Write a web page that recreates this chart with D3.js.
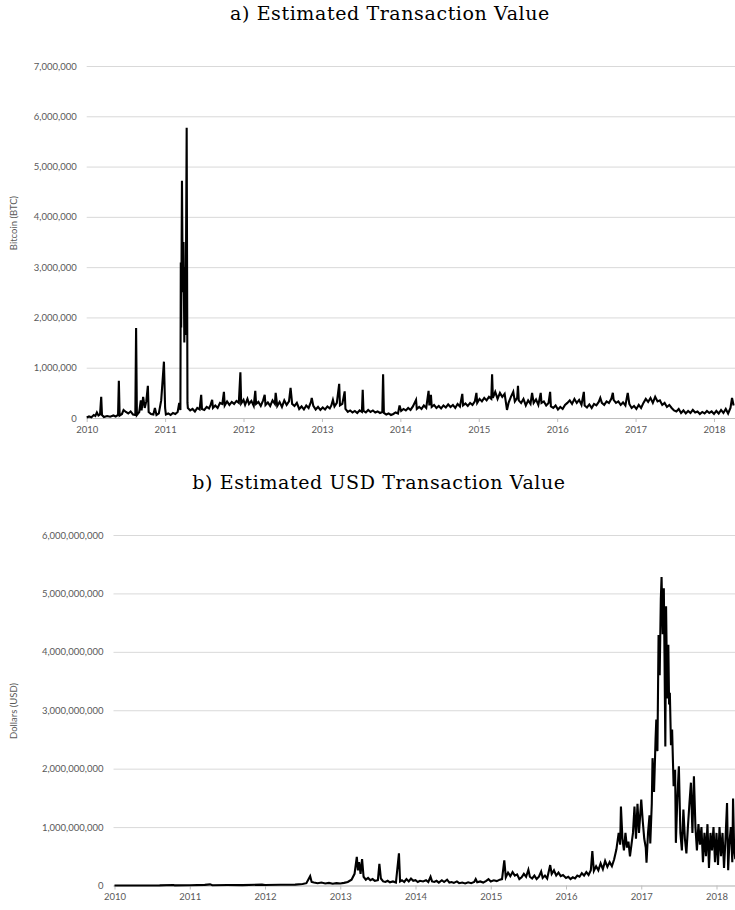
<!DOCTYPE html>
<html>
<head>
<meta charset="utf-8">
<script src="https://cdn.jsdelivr.net/npm/d3@7"></script>
<style>
  html, body { margin: 0; padding: 0; background: #fff; }
  svg { display: block; }
  .tick text { font-family: Lato, "Open Sans", sans-serif; fill: #595959; }
  .title { font-family: "DejaVu Serif", serif; fill: #000; letter-spacing: 0.6px; }
  .ytitle { font-family: Lato, "Open Sans", sans-serif; fill: #595959; font-size: 9.5px; }
</style>
</head>
<body>
<svg id="chart" width="735" height="910"></svg>
<script>
// Year tick labels shared by both panels
const yearTicks = [2010, 2011, 2012, 2013, 2014, 2015, 2016, 2017, 2018];
const btcTicks = [0, 1000, 2000, 3000, 4000, 5000, 6000, 7000];       // thousands of BTC
const usdTicks = [0, 1000, 2000, 3000, 4000, 5000, 6000];             // millions of USD

// a) Estimated transaction value, thousands of BTC (date as fractional year)
const btcDates = [
  2010.00, 2010.03, 2010.06, 2010.09, 2010.11, 2010.13, 2010.15, 2010.17, 2010.185, 2010.195,
  2010.22, 2010.26, 2010.30, 2010.34, 2010.37, 2010.40, 2010.41, 2010.42, 2010.45, 2010.47,
  2010.50, 2010.53, 2010.56, 2010.59, 2010.62, 2010.63, 2010.64, 2010.67, 2010.69, 2010.70,
  2010.72, 2010.74, 2010.76, 2010.78, 2010.79, 2010.82, 2010.85, 2010.87, 2010.89, 2010.92,
  2010.95, 2010.985, 2011.00, 2011.01, 2011.04, 2011.07, 2011.10, 2011.13, 2011.16, 2011.18,
  2011.195, 2011.20, 2011.205, 2011.215, 2011.225, 2011.235, 2011.245, 2011.255, 2011.26, 2011.265,
  2011.275, 2011.285, 2011.29, 2011.32, 2011.35, 2011.38, 2011.41, 2011.44, 2011.46, 2011.47,
  2011.50, 2011.53, 2011.56, 2011.58, 2011.60, 2011.61, 2011.64, 2011.67, 2011.70, 2011.73,
  2011.75, 2011.76, 2011.79, 2011.82, 2011.85, 2011.88, 2011.91, 2011.94, 2011.96, 2011.97,
  2012.00, 2012.02, 2012.05, 2012.07, 2012.10, 2012.13, 2012.15, 2012.16, 2012.19, 2012.22,
  2012.25, 2012.27, 2012.28, 2012.31, 2012.34, 2012.37, 2012.40, 2012.41, 2012.43, 2012.46,
  2012.49, 2012.52, 2012.55, 2012.58, 2012.60, 2012.62, 2012.65, 2012.68, 2012.71, 2012.74,
  2012.77, 2012.80, 2012.83, 2012.86, 2012.87, 2012.89, 2012.92, 2012.95, 2012.98, 2013.01,
  2013.04, 2013.07, 2013.10, 2013.12, 2013.14, 2013.16, 2013.19, 2013.22, 2013.23, 2013.26,
  2013.29, 2013.30, 2013.33, 2013.36, 2013.39, 2013.42, 2013.45, 2013.48, 2013.51, 2013.52,
  2013.53, 2013.56, 2013.59, 2013.62, 2013.65, 2013.68, 2013.71, 2013.74, 2013.77, 2013.78,
  2013.79, 2013.82, 2013.85, 2013.88, 2013.91, 2013.94, 2013.97, 2013.99, 2014.01, 2014.04,
  2014.07, 2014.10, 2014.13, 2014.16, 2014.20, 2014.21, 2014.24, 2014.27, 2014.30, 2014.33,
  2014.36, 2014.37, 2014.39, 2014.40, 2014.43, 2014.46, 2014.49, 2014.52, 2014.55, 2014.58,
  2014.61, 2014.64, 2014.67, 2014.70, 2014.73, 2014.76, 2014.79, 2014.80, 2014.83, 2014.86,
  2014.89, 2014.92, 2014.95, 2014.97, 2014.98, 2015.01, 2015.04, 2015.07, 2015.10, 2015.13,
  2015.16, 2015.17, 2015.18, 2015.21, 2015.24, 2015.27, 2015.30, 2015.33, 2015.36, 2015.38,
  2015.41, 2015.44, 2015.46, 2015.49, 2015.50, 2015.51, 2015.54, 2015.57, 2015.60, 2015.63,
  2015.66, 2015.68, 2015.70, 2015.73, 2015.76, 2015.79, 2015.80, 2015.83, 2015.86, 2015.89,
  2015.91, 2015.92, 2015.95, 2015.98, 2016.01, 2016.04, 2016.07, 2016.10, 2016.13, 2016.16,
  2016.19, 2016.22, 2016.25, 2016.28, 2016.31, 2016.34, 2016.35, 2016.38, 2016.41, 2016.44,
  2016.47, 2016.50, 2016.53, 2016.55, 2016.57, 2016.60, 2016.63, 2016.66, 2016.69, 2016.71,
  2016.72, 2016.75, 2016.78, 2016.81, 2016.84, 2016.87, 2016.90, 2016.92, 2016.95, 2016.98,
  2017.01, 2017.04, 2017.07, 2017.10, 2017.13, 2017.16, 2017.19, 2017.22, 2017.25, 2017.28,
  2017.31, 2017.34, 2017.37, 2017.40, 2017.43, 2017.46, 2017.49, 2017.52, 2017.55, 2017.58,
  2017.61, 2017.64, 2017.67, 2017.70, 2017.73, 2017.76, 2017.79, 2017.82, 2017.85, 2017.88,
  2017.91, 2017.94, 2017.97, 2018.00, 2018.03, 2018.06, 2018.09, 2018.12, 2018.15, 2018.18,
  2018.21, 2018.23, 2018.25
];
const btcThousands = [
  10, 30, 15, 60, 40, 110, 50, 70, 420, 60,
  20, 40, 25, 50, 30, 60, 740, 50, 80, 160,
  120, 90, 130, 70, 60, 1790, 60, 120, 350, 150,
  420, 200, 330, 640, 120, 80, 70, 200, 60, 90,
  350, 1120, 200, 70, 90, 60, 100, 80, 120, 300,
  160, 3090, 1800, 4720, 2500, 3500, 1500, 3000, 1650, 2800,
  5770, 300, 200, 150, 180, 130, 200, 170, 460, 180,
  160, 220, 190, 260, 360, 200, 250, 200, 300, 280,
  520, 250, 330, 260, 320, 280, 340, 300, 910, 290,
  360, 260, 380, 280, 340, 240, 540, 280, 320, 240,
  350, 460, 260, 310, 240, 350, 280, 500, 240, 320,
  220, 350, 260, 330, 600, 280, 240, 300, 180, 230,
  170, 250, 200, 320, 400, 240, 170, 220, 160, 210,
  170, 230, 190, 250, 360, 230, 300, 680, 250, 280,
  530, 180, 120, 150, 110, 140, 100, 150, 120, 560,
  140, 110, 160, 120, 150, 110, 130, 100, 120, 870,
  100, 70, 90, 60, 80, 110, 90, 250, 140, 180,
  150, 200, 160, 230, 360, 180, 220, 180, 250, 200,
  540, 250, 460, 220, 260, 200, 240, 190, 250, 210,
  270, 220, 260, 200, 280, 230, 480, 250, 290, 240,
  300, 260, 330, 500, 300, 380, 330, 400, 350, 420,
  380, 870, 400, 520, 380, 500, 420, 480, 160, 300,
  420, 520, 330, 400, 640, 350, 300, 380, 250, 350,
  280, 500, 300, 370, 260, 500, 300, 330, 250, 300,
  520, 230, 200, 250, 170, 220, 180, 260, 300, 350,
  280, 380, 300, 360, 260, 520, 250, 210, 270, 200,
  280, 250, 320, 400, 300, 260, 330, 300, 380, 500,
  360, 300, 330, 260, 310, 250, 500, 280, 200, 240,
  180, 260, 200, 300, 380, 320, 400, 300, 420, 330,
  350, 260, 300, 220, 260, 200, 150, 130, 180, 100,
  150, 90, 140, 100, 160, 110, 130, 80, 120, 90,
  140, 100, 130, 80, 140, 90, 160, 100, 180, 90,
  200, 400, 250
];

// b) Estimated USD transaction value, millions of USD
const usdDates = [
  2010.00, 2010.30, 2010.60, 2010.78, 2010.80, 2011.00, 2011.20, 2011.27, 2011.30, 2011.50,
  2011.70, 2011.96, 2012.00, 2012.20, 2012.40, 2012.50, 2012.55, 2012.60, 2012.62, 2012.65,
  2012.70, 2012.75, 2012.80, 2012.85, 2012.90, 2012.95, 2013.00, 2013.05, 2013.10, 2013.15,
  2013.19, 2013.22, 2013.235, 2013.25, 2013.27, 2013.29, 2013.31, 2013.34, 2013.37, 2013.40,
  2013.43, 2013.46, 2013.50, 2013.52, 2013.54, 2013.57, 2013.60, 2013.63, 2013.66, 2013.70,
  2013.74, 2013.78, 2013.795, 2013.82, 2013.85, 2013.88, 2013.91, 2013.94, 2013.97, 2014.00,
  2014.03, 2014.06, 2014.10, 2014.14, 2014.17, 2014.20, 2014.22, 2014.25, 2014.28, 2014.31,
  2014.35, 2014.38, 2014.42, 2014.45, 2014.48, 2014.51, 2014.55, 2014.58, 2014.62, 2014.66,
  2014.70, 2014.74, 2014.78, 2014.80, 2014.82, 2014.86, 2014.90, 2014.94, 2014.97, 2015.00,
  2015.04, 2015.08, 2015.12, 2015.15, 2015.18, 2015.20, 2015.23, 2015.26, 2015.29, 2015.32,
  2015.35, 2015.38, 2015.41, 2015.44, 2015.47, 2015.50, 2015.52, 2015.55, 2015.58, 2015.61,
  2015.64, 2015.67, 2015.69, 2015.72, 2015.75, 2015.79, 2015.81, 2015.84, 2015.87, 2015.90,
  2015.93, 2015.96, 2016.00, 2016.03, 2016.06, 2016.09, 2016.12, 2016.15, 2016.18, 2016.21,
  2016.24, 2016.27, 2016.30, 2016.33, 2016.35, 2016.37, 2016.40, 2016.43, 2016.46, 2016.49,
  2016.52, 2016.55, 2016.58, 2016.61, 2016.64, 2016.67, 2016.70, 2016.72, 2016.73, 2016.75,
  2016.77, 2016.79, 2016.81, 2016.83, 2016.85, 2016.87, 2016.89, 2016.91, 2016.93, 2016.95,
  2016.97, 2017.00, 2017.02, 2017.04, 2017.06, 2017.07, 2017.09, 2017.11, 2017.12, 2017.14,
  2017.15, 2017.17, 2017.19, 2017.20, 2017.215, 2017.23, 2017.245, 2017.26, 2017.27, 2017.285,
  2017.30, 2017.31, 2017.32, 2017.33, 2017.345, 2017.36, 2017.37, 2017.38, 2017.395, 2017.41,
  2017.43, 2017.45, 2017.46, 2017.48, 2017.50, 2017.52, 2017.54, 2017.56, 2017.58, 2017.60,
  2017.62, 2017.64, 2017.66, 2017.68, 2017.70, 2017.72, 2017.74, 2017.76, 2017.78, 2017.80,
  2017.82, 2017.84, 2017.86, 2017.88, 2017.90, 2017.92, 2017.94, 2017.96, 2017.98, 2018.00,
  2018.02, 2018.04, 2018.06, 2018.08, 2018.10, 2018.12, 2018.14, 2018.155, 2018.17, 2018.19,
  2018.21, 2018.22, 2018.235, 2018.25
];
const usdMillions = [
  0, 1, 2, 8, 2, 3, 10, 20, 5, 8,
  6, 15, 8, 12, 15, 25, 40, 160, 60, 50,
  40, 50, 35, 45, 30, 40, 35, 45, 60, 100,
  200, 490, 260, 400, 200, 450, 150, 100, 130, 90,
  110, 80, 90, 370, 120, 70, 60, 80, 55, 70,
  50, 550, 70, 90, 60, 110, 70, 120, 80, 90,
  60, 80, 70, 90, 60, 150, 70, 60, 80, 50,
  90, 60, 100, 50, 60, 45, 70, 40, 50, 35,
  55, 40, 60, 110, 55, 70, 50, 80, 110, 70,
  90, 75, 100, 110, 430, 140, 220, 160, 230, 170,
  190, 110, 140, 200, 150, 270, 150, 120, 170, 110,
  150, 240, 130, 170, 120, 350, 200, 260, 170, 220,
  160, 180, 130, 150, 110, 140, 120, 170, 150, 210,
  170, 230, 180, 260, 590, 250, 330, 260, 380, 280,
  420, 320, 400, 330, 450, 620, 900, 700, 1350, 800,
  600, 900, 650, 750, 500, 700, 900, 1350, 800, 1400,
  900, 1470, 1100, 800, 650, 390, 900, 1200, 720, 1400,
  2180, 1600, 2500, 2840, 2300, 4290, 3600, 4900, 5280, 4300,
  5090, 3800, 2380, 4780, 3200, 4120, 3100, 3300, 2400, 2670,
  1700, 1980, 730, 1500, 2040, 900, 600, 1300, 800, 550,
  1000, 1400, 1760, 900, 1870, 1000, 600, 1050, 700, 1000,
  400, 900, 500, 1050, 300, 900, 600, 1000, 400, 900,
  350, 1000, 500, 900, 300, 800, 1410, 260, 700, 1000,
  400, 1490, 600, 450
];

const svg = d3.select("#chart");
const W = 735;

function drawPanel(opts) {
  const { dates, values, ticks, unit, yTop, yBottom, xLeft, xYear0, xYear8, yMax,
          title, titleX, titleY, yTitle, yTitleX, yTitleY, labelGap } = opts;

  const x = d3.scaleLinear().domain([2010, 2018]).range([xYear0, xYear8]);
  const y = d3.scaleLinear().domain([0, yMax]).range([yBottom, yTop]);

  const g = svg.append("g");

  // Horizontal gridlines with tick labels
  const yAxis = d3.axisLeft(y)
    .tickValues(ticks)
    .tickSize(-(W - xLeft))
    .tickPadding(labelGap)
    .tickFormat(d => d3.format(",")(d * unit));
  const ya = g.append("g").attr("transform", `translate(${xLeft},0)`).call(yAxis);
  ya.select(".domain").remove();
  ya.selectAll(".tick line").attr("stroke", "#d9d9d9").attr("stroke-width", 1);
  ya.selectAll(".tick text").attr("font-size", 9.5);

  // Baseline with year ticks
  const xAxis = d3.axisBottom(x)
    .tickValues(yearTicks)
    .tickSize(4)
    .tickPadding(4)
    .tickFormat(d3.format("d"));
  const xa = g.append("g").attr("transform", `translate(0,${yBottom})`).call(xAxis);
  xa.select(".domain").attr("d", `M${xLeft},0.5H${W}`).attr("stroke", "#bfbfbf");
  xa.selectAll(".tick line").attr("stroke", "#bfbfbf");
  xa.selectAll(".tick text").attr("font-size", 9.5);

  // Series line
  const pts = dates.map((d, i) => [d, values[i]]);
  const line = d3.line().x(d => x(d[0])).y(d => y(d[1]));
  g.append("path")
    .datum(pts)
    .attr("d", line)
    .attr("fill", "none")
    .attr("stroke", "#000")
    .attr("stroke-width", 2.1)
    .attr("stroke-linejoin", "miter");

  // Panel title
  g.append("text")
    .attr("class", "title")
    .attr("x", titleX)
    .attr("y", titleY)
    .attr("text-anchor", "middle")
    .attr("font-size", 19)
    .text(title);

  // Y axis title
  g.append("text")
    .attr("class", "ytitle")
    .attr("transform", `translate(${yTitleX},${yTitleY}) rotate(-90)`)
    .attr("text-anchor", "middle")
    .text(yTitle);
}

drawPanel({
  dates: btcDates, values: btcThousands, ticks: btcTicks, unit: 1000,
  yTop: 66, yBottom: 418, xLeft: 86.7, xYear0: 86.7, xYear8: 714, yMax: 7000,
  title: "a) Estimated Transaction Value", titleX: 390, titleY: 20,
  yTitle: "Bitcoin (BTC)", yTitleX: 17, yTitleY: 223, labelGap: 10
});

drawPanel({
  dates: usdDates, values: usdMillions, ticks: usdTicks, unit: 1e6,
  yTop: 535, yBottom: 885.5, xLeft: 113.5, xYear0: 114.5, xYear8: 716.5, yMax: 6000,
  title: "b) Estimated USD Transaction Value", titleX: 379, titleY: 489,
  yTitle: "Dollars (USD)", yTitleX: 17, yTitleY: 711, labelGap: 10
});
</script>
</body>
</html>
